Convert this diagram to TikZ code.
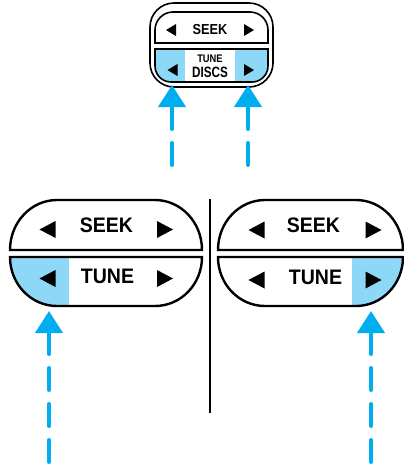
\documentclass[tikz,border=0pt]{standalone}
\usepackage{graphicx}
\usepackage{fontspec}
\setmainfont{Liberation Sans}
\usetikzlibrary{arrows.meta}
\definecolor{lblue}{RGB}{142,216,247}
\definecolor{ablue}{RGB}{0,174,239}
\newcommand\mytriL[4]{\fill[black] (#1-#3/2,#2) -- (#1+#3/2,#2-#4/2) -- (#1+#3/2,#2+#4/2) -- cycle;}
\newcommand\mytriR[4]{\fill[black] (#1+#3/2,#2) -- (#1-#3/2,#2-#4/2) -- (#1-#3/2,#2+#4/2) -- cycle;}
\begin{document}
\begin{tikzpicture}[x=1pt,y=-1pt,
  bigline/.style={draw=black,line width=2.4pt},
  smallline/.style={draw=black,line width=1.6pt},
  arr/.style={draw=ablue,line width=4pt,line cap=round,dash pattern=on 22pt off 14pt,
              -{Triangle[width=27pt,length=22pt]}},
  biglbl/.style={inner sep=0pt,font=\bfseries\fontsize{21}{21}\selectfont},
  smalllbl/.style={inner sep=0pt,font=\bfseries\fontsize{#1}{#1}\selectfont},
  divider/.style={draw=black,line width=2pt}]
\useasboundingbox (0,0) rectangle (404,464);

% ---------- top small button ----------
\draw[smallline,rounded corners=24pt] (150,3) rectangle (273,87);
\draw[smallline] (155,43) -- (155,30) .. controls (155,20.1) and (163.1,12) .. (173,12)
  -- (250,12) .. controls (259.9,12) and (268,20.1) .. (268,30) -- (268,43) -- cycle;
\begin{scope}
  \clip (155,49) -- (268,49) -- (268,66) .. controls (268,74.8) and (260.8,82) .. (252,82)
    -- (171,82) .. controls (162.2,82) and (155,74.8) .. (155,66) -- cycle;
  \fill[lblue] (150,45) rectangle (185,90);
  \fill[lblue] (235,45) rectangle (275,90);
\end{scope}
\draw[smallline] (155,49) -- (268,49) -- (268,66) .. controls (268,74.8) and (260.8,82) .. (252,82)
  -- (171,82) .. controls (162.2,82) and (155,74.8) .. (155,66) -- cycle;
\node[smalllbl=14.5] (seekT) at (210,29.5) {\scalebox{0.88}[1]{SEEK}};
\node[smalllbl=11] (tuneT) at (210,59) {\scalebox{0.85}[1]{TUNE}};
\node[smalllbl=15] (discsT) at (210,72.5) {\scalebox{0.78}[1]{DISCS}};
\mytriL{171}{30}{10}{12}
\mytriR{249}{30}{10}{12}
\mytriL{172.5}{70}{10}{12}
\mytriR{249}{70}{10}{12}

% ---------- left big button ----------
\draw[bigline] (10,250) .. controls (10,222.4) and (31,200) .. (57,200) -- (155,200)
  .. controls (181,200) and (202,222.4) .. (202,250) -- cycle;
\begin{scope}
  \clip (10,257) -- (202,257) .. controls (202,284.1) and (181,306) .. (155,306) -- (57,306)
    .. controls (31,306) and (10,284.1) .. (10,257) -- cycle;
  \fill[lblue] (0,250) rectangle (69,310);
\end{scope}
\draw[bigline] (10,257) -- (202,257) .. controls (202,284.1) and (181,306) .. (155,306) -- (57,306)
  .. controls (31,306) and (10,284.1) .. (10,257) -- cycle;
\node[biglbl] (seekL) at (106.5,225.5) {\scalebox{0.93}[1]{SEEK}};
\node[biglbl] (tuneL) at (107.5,276.5) {\scalebox{0.93}[1]{TUNE}};
\mytriL{47.5}{229.5}{16}{17}
\mytriR{165}{229.5}{16}{17}
\mytriL{47.5}{278.5}{16}{17}
\mytriR{165}{278.5}{16}{17}

% ---------- right big button ----------
\draw[bigline] (218,250) .. controls (218,222.4) and (239,200) .. (265,200) -- (356,200)
  .. controls (382,200) and (403,222.4) .. (403,250) -- cycle;
\begin{scope}
  \clip (218,257) -- (403,257) .. controls (403,284.1) and (382,306) .. (356,306) -- (265,306)
    .. controls (239,306) and (218,284.1) .. (218,257) -- cycle;
  \fill[lblue] (352,250) rectangle (410,310);
\end{scope}
\draw[bigline] (218,257) -- (403,257) .. controls (403,284.1) and (382,306) .. (356,306) -- (265,306)
  .. controls (239,306) and (218,284.1) .. (218,257) -- cycle;
\node[biglbl] (seekR) at (313.5,225.5) {\scalebox{0.93}[1]{SEEK}};
\node[biglbl] (tuneR) at (315.5,277.5) {\scalebox{0.93}[1]{TUNE}};
\mytriL{256.5}{230}{16}{17}
\mytriR{373.5}{230}{16}{17}
\mytriL{256.5}{280}{16}{17}
\mytriR{373.5}{280}{16}{17}

% ---------- divider ----------
\coordinate (divT) at (209.5,199);
\coordinate (divB) at (209.5,413);
\draw[divider] (divT) -- (divB);

% ---------- arrows ----------
\coordinate (tipTL) at (172,85);
\coordinate (endTL) at (172,165);
\coordinate (tipTR) at (248,85);
\coordinate (endTR) at (248,165);
\coordinate (tipBL) at (49,311);
\coordinate (endBL) at (49,462);
\coordinate (tipBR) at (371,311);
\coordinate (endBR) at (371,462);
\draw[arr] (endTL) -- (tipTL);
\draw[arr] (endTR) -- (tipTR);
\draw[arr] (endBL) -- (tipBL);
\draw[arr] (endBR) -- (tipBR);
\end{tikzpicture}
\end{document}
